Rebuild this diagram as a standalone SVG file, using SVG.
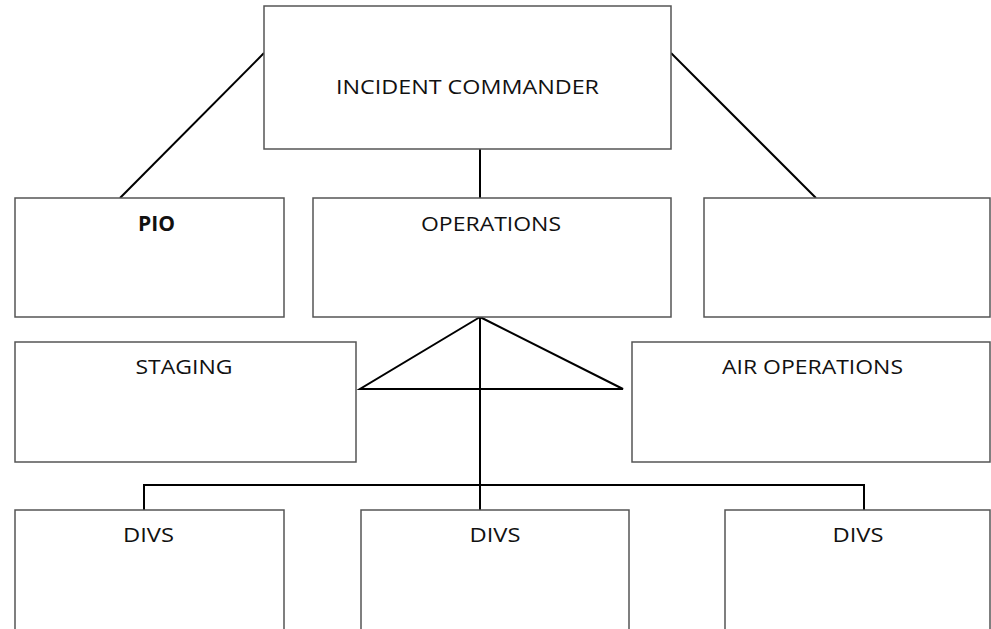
<svg xmlns="http://www.w3.org/2000/svg" width="991" height="629" viewBox="0 0 991 629">
<style>
.box{fill:#fff;stroke:#555;stroke-width:1.5}
.lbl{font-family:"Open Sans","Noto Sans",sans-serif;font-size:20.5px;fill:#111;text-anchor:middle}
.b{font-weight:bold}
.con line,.con polyline,.con path{stroke:#000;stroke-width:2;fill:none}
</style>
<rect width="991" height="629" fill="#fff"/>
<g class="con" id="connectors">
<line x1="264" y1="53" x2="120" y2="198"/>
<line x1="671" y1="53" x2="816" y2="198"/>
<line x1="480" y1="149" x2="480" y2="198"/>
<path d="M480 317 L360 389 L623 389 Z"/>
<line x1="480" y1="317" x2="480" y2="510"/>
<polyline points="144,510 144,485 864,485 864,510"/>
</g>
<g id="ic"><rect class="box" x="264" y="6" width="407" height="143"/><text class="lbl" x="467.5" y="94" textLength="263" lengthAdjust="spacingAndGlyphs">INCIDENT COMMANDER</text></g>
<g id="pio"><rect class="box" x="15" y="198" width="269" height="119"/><text class="lbl b" x="156.5" y="231" textLength="37" lengthAdjust="spacingAndGlyphs">PIO</text></g>
<g id="operations"><rect class="box" x="313" y="198" width="358" height="119"/><text class="lbl" x="491" y="231" textLength="140" lengthAdjust="spacingAndGlyphs">OPERATIONS</text></g>
<g id="blank"><rect class="box" x="704" y="198" width="286" height="119"/></g>
<g id="staging"><rect class="box" x="15" y="342" width="341" height="120"/><text class="lbl" x="184" y="374" textLength="97" lengthAdjust="spacingAndGlyphs">STAGING</text></g>
<g id="airops"><rect class="box" x="632" y="342" width="358" height="120"/><text class="lbl" x="812.5" y="374" textLength="181" lengthAdjust="spacingAndGlyphs">AIR OPERATIONS</text></g>
<g id="divs1"><rect class="box" x="15" y="510" width="269" height="130"/><text class="lbl" x="148.5" y="542" textLength="51" lengthAdjust="spacingAndGlyphs">DIVS</text></g>
<g id="divs2"><rect class="box" x="361" y="510" width="268" height="130"/><text class="lbl" x="495" y="542" textLength="51" lengthAdjust="spacingAndGlyphs">DIVS</text></g>
<g id="divs3"><rect class="box" x="725" y="510" width="265" height="130"/><text class="lbl" x="858" y="542" textLength="51" lengthAdjust="spacingAndGlyphs">DIVS</text></g>
</svg>
